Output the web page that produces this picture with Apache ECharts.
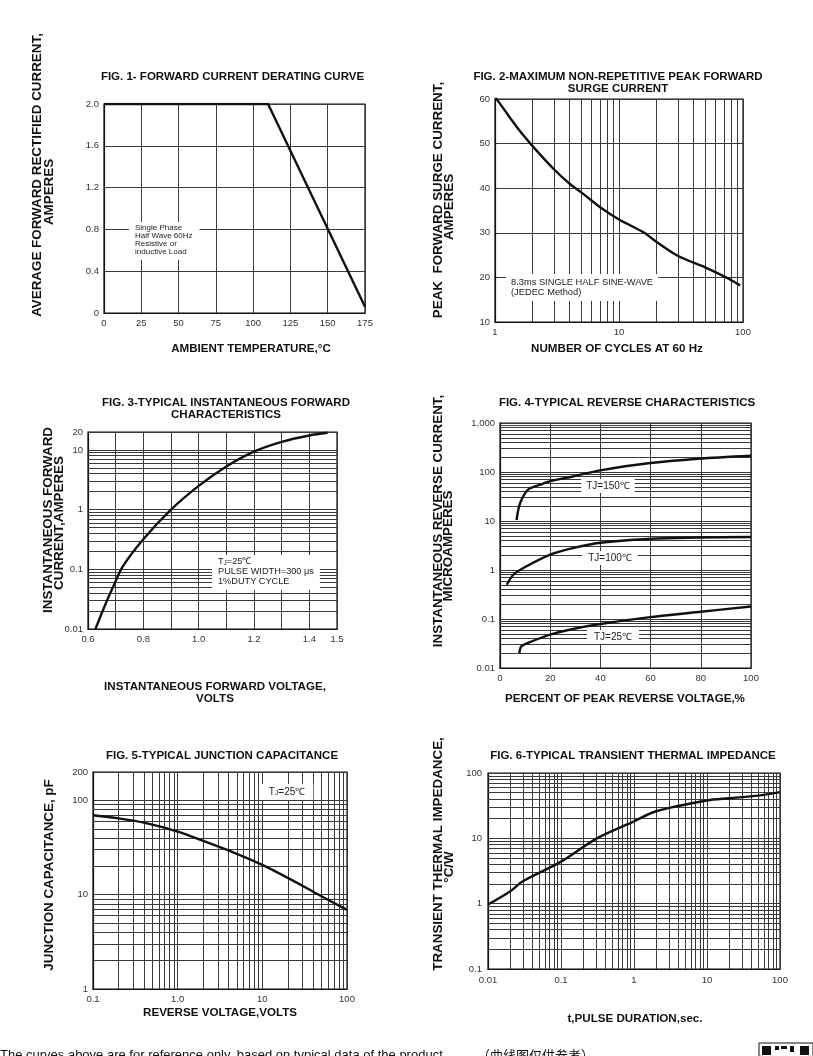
<!DOCTYPE html>
<html>
<head>
<meta charset="utf-8">
<script src="https://cdn.jsdelivr.net/npm/echarts@6/dist/echarts.min.js"></script>
<style>
html,body{margin:0;padding:0;background:#fff;}
#chart{width:813px;height:1056px;}
</style>
</head>
<body>
<div id="chart"></div>
<script>
// ---------- DATA ----------
// Fig 1 – forward current derating
const fig1Temp = [0, 110, 175];
const fig1Current = [2.0, 2.0, 0.06];
// Fig 2 – peak forward surge current
const fig2Cycles = [1, 1.33, 1.6, 2, 3, 4, 5, 7, 10, 16, 20, 30, 50, 73, 95];
const fig2Current = [60.5, 55.7, 52.7, 49.5, 44.2, 41, 39, 35.8, 33, 30, 28, 24.8, 22.2, 20, 18.2];
// Fig 3 – instantaneous forward characteristics
const fig3Voltage = [0.627, 0.66, 0.69, 0.727, 0.8, 0.9, 1.0, 1.1, 1.2, 1.3, 1.4, 1.466];
const fig3Current = [0.01, 0.024, 0.05, 0.114, 0.32, 1.0, 2.5, 5.3, 9.4, 13.7, 17.5, 19.4];
// Fig 4 – reverse characteristics
const fig4PctTj150 = [6.6, 8, 11.3, 16, 20, 29, 40, 59, 79, 100];
const fig4CurTj150 = [10.5, 23, 44, 55, 65, 81, 108, 151, 187, 215];
const fig4PctTj100 = [2.7, 5.3, 9.3, 20, 29, 40, 59, 79, 100];
const fig4CurTj100 = [0.5, 0.8, 1.1, 2.06, 2.8, 3.6, 4.3, 4.6, 4.7];
const fig4PctTj25 = [7.7, 8.6, 13.3, 20, 29, 40, 59, 79, 100];
const fig4CurTj25 = [0.02, 0.028, 0.036, 0.048, 0.0625, 0.079, 0.108, 0.139, 0.18];
// Fig 5 – junction capacitance
const fig5Voltage = [0.1, 0.2, 0.4, 1, 2, 4.6, 10, 23, 48, 100];
const fig5Cap = [69.5, 64.5, 58, 46.7, 37.2, 28, 20.7, 14.1, 9.8, 6.9];
// Fig 6 – transient thermal impedance
const fig6Time = [0.01, 0.02, 0.03, 0.1, 0.31, 1, 2, 10, 20, 50, 100];
const fig6Imp = [0.97, 1.54, 2.2, 4.4, 10, 18.2, 26, 38, 41, 45, 51];

// tick labels
const fig3XLabels = ['0.6', '0.8', '1.0', '1.2', '1.4', '1.5'];
const fig3TopLabel = 20;
const fig5TopLabel = 200;

// ---------- HELPERS ----------
const FONT = "'Liberation Sans', Arial, Helvetica, sans-serif";
const GRID_COLOR = '#3a3a3a';
const INK = '#111';
const TICK = { color: '#333', fontSize: 9.5, fontFamily: FONT, margin: 5 };

function logMinors(decades) {
  const out = [];
  decades.forEach(d => { for (let k = 2; k <= 9; k++) out.push(+(k * d).toPrecision(6)); });
  return out;
}
function zip(a, b) { return a.map((v, i) => [v, b[i]]); }
function fmtNum(v) { return String(+(+v).toPrecision(6)); }
function lbl(extra) { return Object.assign({}, TICK, extra); }

function xAx(gi, extra) {
  return Object.assign({
    gridIndex: gi,
    axisLine: { show: true, onZero: false, lineStyle: { color: INK, width: 1.2 } },
    axisTick: { show: false },
    axisLabel: lbl({}),
    splitLine: { show: true, lineStyle: { color: GRID_COLOR, width: 1 } }
  }, extra);
}
const yAx = xAx;

function gridSeries(gi, corner, xs, ys) {
  const data = [];
  xs.forEach(v => data.push({ xAxis: v }));
  ys.forEach(v => data.push({ yAxis: v }));
  return {
    type: 'line', xAxisIndex: gi, yAxisIndex: gi, data: [corner],
    symbol: 'none', silent: true, z: 1, lineStyle: { opacity: 0 },
    markLine: {
      silent: true, z: 1, animation: false, symbol: ['none', 'none'],
      label: { show: false },
      lineStyle: { type: 'solid', color: GRID_COLOR, width: 1 },
      emphasis: { disabled: true },
      data: data
    }
  };
}
function curve(gi, xs, ys, smooth) {
  return {
    type: 'line', xAxisIndex: gi, yAxisIndex: gi, data: zip(xs, ys),
    smooth: smooth === undefined ? 0.3 : smooth, symbol: 'none', silent: true, z: 5,
    lineStyle: { color: INK, width: 2.4 }
  };
}

// ---------- GRIDS ----------
const grids = [
  { left: 104, top: 104, width: 261, height: 209 },
  { left: 495, top: 99, width: 248, height: 223 },
  { left: 88, top: 432, width: 249, height: 197 },
  { left: 500, top: 423, width: 251, height: 245 },
  { left: 93, top: 772, width: 254, height: 217 },
  { left: 488, top: 773, width: 292, height: 196 }
].map(g => Object.assign({ show: true, borderColor: INK, borderWidth: 1.2, backgroundColor: 'transparent' }, g));

const xAxes = [
  xAx(0, { type: 'value', min: 0, max: 175, interval: 25 }),
  xAx(1, { type: 'log', logBase: 10, min: 1, max: 100, axisLabel: lbl({ formatter: fmtNum }) }),
  xAx(2, { type: 'value', min: 0.6, max: 1.5, interval: 0.1,
    axisLabel: lbl({ formatter: v => { const s = (+v).toFixed(1); return fig3XLabels.indexOf(s) >= 0 ? s : ''; } }) }),
  xAx(3, { type: 'value', min: 0, max: 100, interval: 20 }),
  xAx(4, { type: 'log', logBase: 10, min: 0.1, max: 100, axisLabel: lbl({ formatter: v => (+v === 1 ? '1.0' : fmtNum(v)) }) }),
  xAx(5, { type: 'log', logBase: 10, min: 0.01, max: 100, axisLabel: lbl({ margin: 6, formatter: fmtNum }) })
];
const yAxes = [
  yAx(0, { type: 'value', min: 0, max: 2.0, interval: 0.4, axisLabel: lbl({ formatter: v => (+v === 0 ? '0' : (+v).toFixed(1)) }) }),
  yAx(1, { type: 'value', min: 10, max: 60, interval: 10 }),
  yAx(2, { type: 'log', logBase: 10, min: 0.01, max: fig3TopLabel, axisLabel: lbl({ formatter: fmtNum }) }),
  yAx(3, { type: 'log', logBase: 10, min: 0.01, max: 1000, axisLabel: lbl({ formatter: v => (+v >= 1000 ? '1,000' : fmtNum(v)) }) }),
  yAx(4, { type: 'log', logBase: 10, min: 1, max: fig5TopLabel, axisLabel: lbl({ formatter: fmtNum }) }),
  yAx(5, { type: 'log', logBase: 10, min: 0.1, max: 100, axisLabel: lbl({ margin: 6, formatter: fmtNum }) })
];

const series = [
  curve(0, fig1Temp, fig1Current, false),
  gridSeries(1, [1, 10], logMinors([1, 10]), []),
  curve(1, fig2Cycles, fig2Current),
  gridSeries(2, [0.6, 0.01], [], logMinors([0.01, 0.1, 1])),
  curve(2, fig3Voltage, fig3Current),
  gridSeries(3, [0, 0.01], [], logMinors([0.01, 0.1, 1, 10, 100])),
  curve(3, fig4PctTj150, fig4CurTj150),
  curve(3, fig4PctTj100, fig4CurTj100),
  curve(3, fig4PctTj25, fig4CurTj25),
  gridSeries(4, [0.1, 1], logMinors([0.1, 1, 10]), logMinors([1, 10])),
  curve(4, fig5Voltage, fig5Cap),
  gridSeries(5, [0.01, 0.1], logMinors([0.01, 0.1, 1, 10]), logMinors([0.1, 1, 10])),
  curve(5, fig6Time, fig6Imp)
];

// ---------- TEXT ----------
const els = [];
function txt(x, y, text, o) {
  o = o || {};
  els.push({
    type: 'text', x: x, y: y, z: 100, rotation: o.rot || 0, silent: true,
    style: Object.assign({
      text: text, fill: o.fill || INK, fontFamily: FONT, fontSize: o.size || 11.5,
      fontWeight: o.bold === false ? 'normal' : 'bold',
      align: o.align || 'center', verticalAlign: o.va || 'middle'
    }, o.style || {})
  });
}
function title(x, y, t, s) { txt(x, y, t, { size: s || 11.5 }); }
function ytitle(x, y, t) { txt(x, y, t, { size: 13.4, rot: Math.PI / 2 }); }
function note(x, y, t, o) {
  o = o || {};
  els.push({
    type: 'text', x: x, y: y, z: 100, silent: true,
    style: {
      text: t, fill: '#222', fontFamily: FONT, fontSize: o.size || 8.5,
      lineHeight: o.lh || 10, align: o.align || 'left', verticalAlign: o.va || 'top',
      backgroundColor: '#fff', padding: o.pad || [2, 4, 2, 4],
      rich: { s: { fontSize: (o.size || 8.5) * 0.7, fill: '#222', fontFamily: FONT, verticalAlign: 'bottom', lineHeight: o.lh || 10 } }
    }
  });
}

// Figure titles
title(232.5, 77, 'FIG. 1- FORWARD CURRENT DERATING CURVE');
title(618, 77, 'FIG. 2-MAXIMUM NON-REPETITIVE PEAK FORWARD');
title(618, 89, 'SURGE CURRENT');
title(226, 403, 'FIG. 3-TYPICAL INSTANTANEOUS FORWARD');
title(226, 414.5, 'CHARACTERISTICS');
title(627, 403, 'FIG. 4-TYPICAL REVERSE CHARACTERISTICS');
title(222, 756, 'FIG. 5-TYPICAL JUNCTION CAPACITANCE');
title(633, 756, 'FIG. 6-TYPICAL TRANSIENT THERMAL IMPEDANCE');

// X axis titles
title(251, 349, 'AMBIENT TEMPERATURE,\u00B0C', 11.6);
title(617, 349, 'NUMBER OF CYCLES AT 60 Hz', 11.6);
title(215, 687, 'INSTANTANEOUS FORWARD VOLTAGE,', 11.6);
title(215, 699, 'VOLTS', 11.6);
title(625, 699, 'PERCENT OF PEAK REVERSE VOLTAGE,%', 11.6);
title(220, 1013, 'REVERSE VOLTAGE,VOLTS', 11.6);
title(635, 1019, 't,PULSE DURATION,sec.', 11.6);

// Y axis titles
ytitle(37.5, 175, 'AVERAGE FORWARD RECTIFIED CURRENT,');
ytitle(49, 192, 'AMPERES');
ytitle(438, 200, 'PEAK  FORWARD SURGE CURRENT,');
ytitle(449, 207, 'AMPERES');
ytitle(48, 520, 'INSTANTANEOUS FORWARD');
ytitle(59.5, 523, 'CURRENT,AMPERES');
ytitle(438, 521, 'INSTANTANEOUS REVERSE CURRENT,');
ytitle(448.5, 546, 'MICROAMPERES');
ytitle(49, 875, 'JUNCTION CAPACITANCE, pF');
ytitle(438, 854, 'TRANSIENT THERMAL IMPEDANCE,');
ytitle(449, 867, '\u00B0C/W');

// Annotations
note(129, 222, 'Single Phase\nHalf Wave 60Hz\nResistive or\ninductive Load', { size: 8, lh: 8, pad: [2, 7, 4, 6] });
note(506, 274, '8.3ms SINGLE HALF SINE-WAVE\n(JEDEC Method)', { size: 9.3, lh: 10, pad: [3, 5, 4, 5] });
note(212, 555, 'T{s|J}=25\u2103\nPULSE WIDTH=300 \u03BCs\n1%DUTY CYCLE', { size: 9.2, lh: 10, pad: [1, 6, 4, 6] });
note(608, 486, 'TJ=150\u2103', { size: 10, align: 'center', va: 'middle', pad: [2, 5, 2, 5] });
note(610, 558, 'TJ=100\u2103', { size: 10, align: 'center', va: 'middle', pad: [2, 6, 2, 6] });
note(613, 637, 'TJ=25\u2103', { size: 10, align: 'center', va: 'middle', pad: [2, 7, 2, 7] });
note(287, 792, 'T{s|J}=25\u2103', { size: 10, align: 'center', va: 'middle', pad: [3, 8, 3, 8] });

// Footer (cut off at page bottom)
els.push({ type: 'text', x: 0, y: 1049, z: 100, silent: true,
  style: { text: 'The curves above are for reference only, based on typical data of the product.', fill: '#111', fontFamily: FONT, fontSize: 13, align: 'left', verticalAlign: 'top' } });
els.push({ type: 'text', x: 477, y: 1049, z: 100, silent: true,
  style: { text: '\uFF08\u66F2\u7EBF\u56FE\u4EC5\u4F9B\u53C2\u8003\uFF09', fill: '#111', fontFamily: "'Noto Sans CJK SC', sans-serif", fontSize: 13, align: 'left', verticalAlign: 'top' } });
// QR code corner
els.push({ type: 'rect', z: 100, silent: true, shape: { x: 759, y: 1043, width: 54, height: 20 }, style: { fill: '#fff', stroke: '#111', lineWidth: 1 } });
[[762, 1046, 9, 9], [775, 1046, 4, 4], [781, 1046, 6, 3], [790, 1046, 4, 6], [800, 1046, 9, 9]].forEach(r => {
  els.push({ type: 'rect', z: 101, silent: true, shape: { x: r[0], y: r[1], width: r[2], height: r[3] }, style: { fill: '#111' } });
});

const chart = echarts.init(document.getElementById('chart'), null, { renderer: 'canvas' });
chart.setOption({
  animation: false,
  backgroundColor: '#fff',
  textStyle: { fontFamily: FONT },
  grid: grids,
  xAxis: xAxes,
  yAxis: yAxes,
  series: series,
  graphic: { elements: els }
});
</script>
</body>
</html>
